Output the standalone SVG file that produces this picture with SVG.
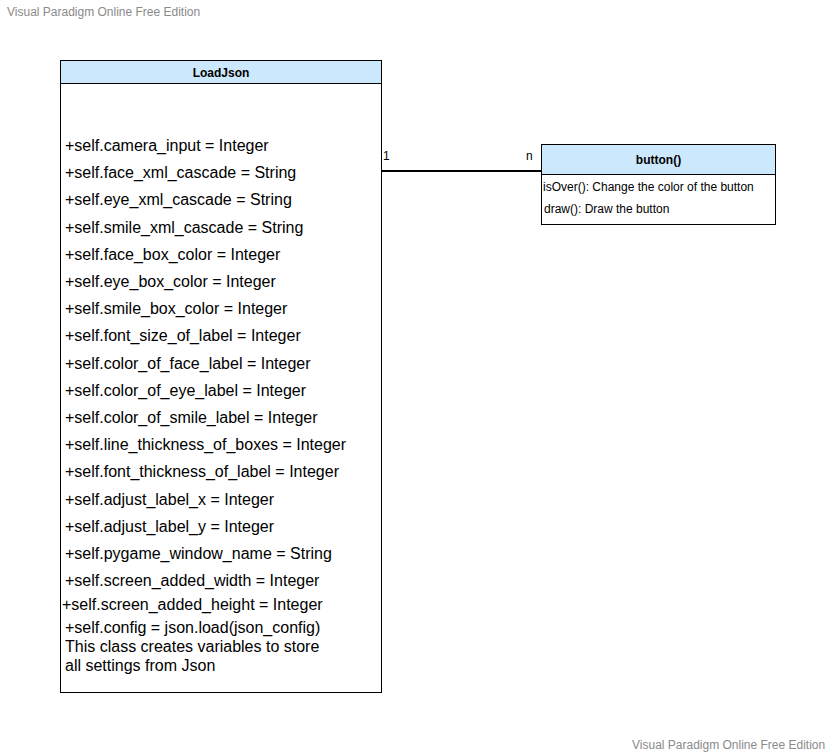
<svg xmlns="http://www.w3.org/2000/svg" width="837" height="754" viewBox="0 0 837 754">
<style>
.wm{font-family:"Liberation Sans",Arial,sans-serif;font-size:12px;fill:#8a8a8a}
.box{fill:#ffffff;stroke:#000000;stroke-width:1}
.hdr{fill:#cce8fc;stroke:#000000;stroke-width:1}
.title{font-family:"Liberation Sans",Arial,sans-serif;font-size:12px;font-weight:bold;fill:#000;text-anchor:middle}
.attr{font-family:"Liberation Sans",Arial,sans-serif;font-size:16px;fill:#000}
.op{font-family:"Liberation Sans",Arial,sans-serif;font-size:12px;fill:#000}
.lbl{font-family:"Liberation Sans",Arial,sans-serif;font-size:12px;fill:#000}
</style>
<rect width="837" height="754" fill="#ffffff"/>
<text class="wm" x="7" y="16">Visual Paradigm Online Free Edition</text>
<text class="wm" x="632" y="749">Visual Paradigm Online Free Edition</text>
<g id="connectors">
<line x1="381.5" y1="171" x2="541.5" y2="171" stroke="#000" stroke-width="2"/>
<text class="lbl" x="383" y="160">1</text>
<text class="lbl" x="526" y="160">n</text>
</g>
<g id="LoadJson">
<rect class="box" x="60.5" y="60.5" width="321" height="632"/>
<rect class="hdr" x="60.5" y="60.5" width="321" height="23"/>
<text class="title" x="221" y="76.5">LoadJson</text>
<text class="attr" x="65" y="151">+self.camera_input = Integer</text>
<text class="attr" x="65" y="178">+self.face_xml_cascade = String</text>
<text class="attr" x="65" y="205">+self.eye_xml_cascade = String</text>
<text class="attr" x="65" y="233">+self.smile_xml_cascade = String</text>
<text class="attr" x="65" y="260">+self.face_box_color = Integer</text>
<text class="attr" x="65" y="287">+self.eye_box_color = Integer</text>
<text class="attr" x="65" y="314">+self.smile_box_color = Integer</text>
<text class="attr" x="65" y="341">+self.font_size_of_label = Integer</text>
<text class="attr" x="65" y="369">+self.color_of_face_label = Integer</text>
<text class="attr" x="65" y="396">+self.color_of_eye_label = Integer</text>
<text class="attr" x="65" y="423">+self.color_of_smile_label = Integer</text>
<text class="attr" x="65" y="450">+self.line_thickness_of_boxes = Integer</text>
<text class="attr" x="65" y="477">+self.font_thickness_of_label = Integer</text>
<text class="attr" x="65" y="505">+self.adjust_label_x = Integer</text>
<text class="attr" x="65" y="532">+self.adjust_label_y = Integer</text>
<text class="attr" x="65" y="559">+self.pygame_window_name = String</text>
<text class="attr" x="65" y="586">+self.screen_added_width = Integer</text>
<text class="attr" x="62" y="610">+self.screen_added_height = Integer</text>
<text class="attr" x="65" y="633">+self.config = json.load(json_config)</text>
<text class="attr" x="65" y="652">This class creates variables to store</text>
<text class="attr" x="65" y="671">all settings from Json</text>
</g>
<g id="button">
<rect class="box" x="541.5" y="144.5" width="234" height="80"/>
<rect class="hdr" x="541.5" y="144.5" width="234" height="30"/>
<text class="title" x="658.5" y="164">button()</text>
<text class="op" x="543" y="191">isOver(): Change the color of the button</text>
<text class="op" x="544" y="213">draw(): Draw the button</text>
</g>
</svg>
